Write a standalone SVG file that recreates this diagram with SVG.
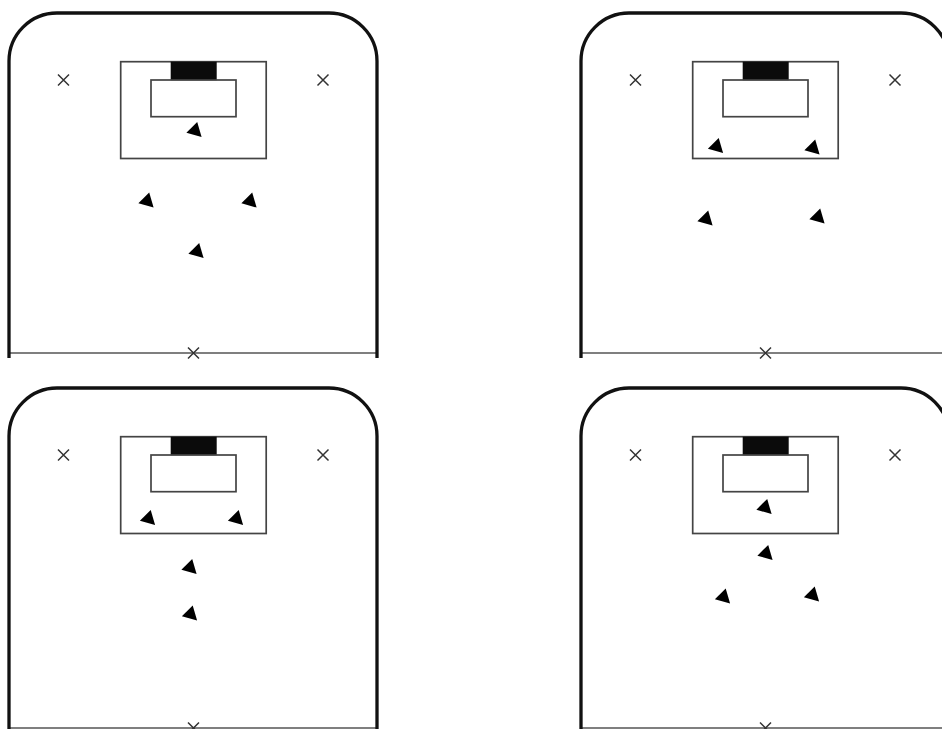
<svg xmlns="http://www.w3.org/2000/svg" xmlns:xlink="http://www.w3.org/1999/xlink" width="942" height="729" viewBox="0 0 942 729">
<style>
.edge{fill:none;stroke:#111;stroke-width:3.3}
.base{fill:none;stroke:#555;stroke-width:1.6}
.box{fill:none;stroke:#444;stroke-width:1.7}
.net{fill:#0b0b0b}
.x{fill:none;stroke:#333;stroke-width:1.5}
.pl{fill:#000}
</style>
<defs>
<path id="cross" class="x" d="M-5.5,-5.5 L5.5,5.5 M5.5,-5.5 L-5.5,5.5"/>
<path id="tri" class="pl" d="M2.2,-8.6 L-8.6,2.2 L6.6,6.6 Z"/>
<g id="court">
<line class="base" x1="9" y1="353" x2="377" y2="353"/>
<path class="edge" d="M9,358 V61 A48,48 0 0 1 57,13 H329 A48,48 0 0 1 377,61 V358"/>
<rect class="box" x="120.7" y="61.7" width="145.5" height="96.8"/>
<rect class="net" x="170.7" y="61.7" width="46" height="18.5"/>
<rect class="box" x="151" y="80" width="85" height="36.7" fill="#fff"/>
<use xlink:href="#cross" x="63.5" y="80"/>
<use xlink:href="#cross" x="323" y="80"/>
<use xlink:href="#cross" x="193.5" y="353"/>
</g>
</defs>
<rect width="942" height="729" fill="#fff"/>
<g id="panel-top-left">
<use xlink:href="#court"/>
<use xlink:href="#tri" x="195" y="130.5"/>
<use xlink:href="#tri" x="147" y="201"/>
<use xlink:href="#tri" x="250" y="201"/>
<use xlink:href="#tri" x="197" y="251.5"/>
</g>
<g id="panel-top-right">
<use xlink:href="#court" x="572"/>
<use xlink:href="#tri" x="716.5" y="146.5"/>
<use xlink:href="#tri" x="813" y="148"/>
<use xlink:href="#tri" x="706" y="219"/>
<use xlink:href="#tri" x="818" y="217"/>
</g>
<g id="panel-bottom-left">
<use xlink:href="#court" y="375"/>
<use xlink:href="#tri" x="148.5" y="518.5"/>
<use xlink:href="#tri" x="236.5" y="518.5"/>
<use xlink:href="#tri" x="190" y="567.5"/>
<use xlink:href="#tri" x="190.5" y="614"/>
</g>
<g id="panel-bottom-right">
<use xlink:href="#court" x="572" y="375"/>
<use xlink:href="#tri" x="765" y="507.5"/>
<use xlink:href="#tri" x="766" y="553.5"/>
<use xlink:href="#tri" x="723.5" y="597"/>
<use xlink:href="#tri" x="812.5" y="595"/>
</g>
<g id="connectors"/>
</svg>
